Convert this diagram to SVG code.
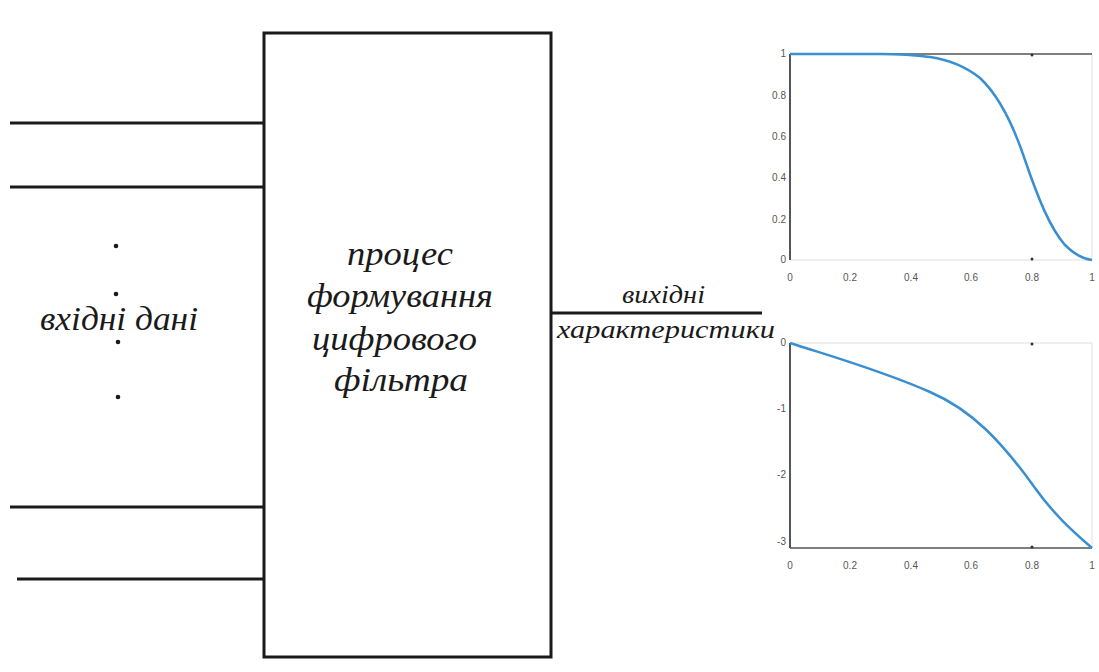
<svg xmlns="http://www.w3.org/2000/svg" width="1099" height="672" viewBox="0 0 1099 672">
<style>
.ln{stroke:#1a1a1a;stroke-width:3;fill:none}
.t{font-family:"Liberation Serif","DejaVu Serif",serif;font-style:italic;fill:#1a1a1a}
.ax{font-family:"Liberation Sans",sans-serif;font-size:10px;fill:#555}
.curve{stroke:#3a8fd0;stroke-width:2.5;fill:none}
</style>
<rect width="1099" height="672" fill="#fff"/>
<g id="connectors">
<line class="ln" x1="10" y1="123" x2="264" y2="123"/>
<line class="ln" x1="10" y1="187" x2="264" y2="187"/>
<line class="ln" x1="10" y1="507" x2="264" y2="507"/>
<line class="ln" x1="17" y1="579" x2="264" y2="579"/>
<line class="ln" x1="551" y1="313" x2="762" y2="313"/>
</g>
<g id="inputs">
<circle cx="116" cy="246" r="2.3" fill="#1a1a1a"/>
<circle cx="116" cy="294" r="2.3" fill="#1a1a1a"/>
<circle cx="118" cy="342" r="2.3" fill="#1a1a1a"/>
<circle cx="118" cy="397" r="2.3" fill="#1a1a1a"/>
<text class="t" x="40" y="330" font-size="33" textLength="158" lengthAdjust="spacingAndGlyphs">вхідні дані</text>
</g>
<g id="process">
<rect x="264" y="33" width="287" height="624" class="ln"/>
<text class="t" font-size="34" lengthAdjust="spacingAndGlyphs" x="347" y="265" textLength="106">процес</text>
<text class="t" font-size="34" lengthAdjust="spacingAndGlyphs" x="307" y="307" textLength="186">формування</text>
<text class="t" font-size="34" lengthAdjust="spacingAndGlyphs" x="312" y="350" textLength="165">цифрового</text>
<text class="t" font-size="34" lengthAdjust="spacingAndGlyphs" x="334" y="391" textLength="134">фільтра</text>
</g>
<g id="output">
<text class="t" font-size="26" lengthAdjust="spacingAndGlyphs" x="622" y="303" textLength="83">вихідні</text>
<text class="t" font-size="26" lengthAdjust="spacingAndGlyphs" x="557" y="338" textLength="218">характеристики</text>
</g>
<g id="plot-magnitude">
<line x1="790" y1="260" x2="1092" y2="260" stroke="#ddd" stroke-width="1"/>
<line x1="1092" y1="54" x2="1092" y2="260" stroke="#e4e4e4" stroke-width="1"/>
<line x1="790" y1="54" x2="1092" y2="54" stroke="#555" stroke-width="1.5"/>
<line x1="790" y1="54" x2="790" y2="260" stroke="#555" stroke-width="2"/>
<circle cx="1032" cy="55" r="1.5" fill="#333"/><circle cx="1032" cy="259" r="1.5" fill="#333"/>
<g class="ax" text-anchor="end">
<text x="786" y="57">1</text><text x="786" y="99">0.8</text><text x="786" y="140">0.6</text><text x="786" y="181">0.4</text><text x="786" y="223">0.2</text><text x="786" y="263">0</text>
</g>
<g class="ax" text-anchor="middle">
<text x="790" y="281">0</text><text x="850" y="281">0.2</text><text x="911" y="281">0.4</text><text x="971" y="281">0.6</text><text x="1032" y="281">0.8</text><text x="1092" y="281">1</text>
</g>
<path class="curve" d="M790,54 L880,54 C900,54 915,55 930,57 C950,60 965,66 980,78 C995,92 1010,115 1025,160 C1038,198 1050,228 1065,245 C1075,255 1083,259 1092,260"/>
</g>
<g id="plot-phase">
<line x1="790" y1="343" x2="1092" y2="343" stroke="#ddd" stroke-width="1"/>
<line x1="1092" y1="343" x2="1092" y2="548" stroke="#e4e4e4" stroke-width="1"/>
<line x1="790" y1="548" x2="1092" y2="548" stroke="#555" stroke-width="1.5"/>
<line x1="790" y1="343" x2="790" y2="548" stroke="#555" stroke-width="2"/>
<circle cx="1032" cy="344" r="1.5" fill="#333"/><circle cx="1032" cy="547" r="1.5" fill="#333"/>
<g class="ax" text-anchor="end">
<text x="786" y="346">0</text><text x="786" y="412">-1</text><text x="786" y="478">-2</text><text x="786" y="545">-3</text>
</g>
<g class="ax" text-anchor="middle">
<text x="790" y="569">0</text><text x="850" y="569">0.2</text><text x="911" y="569">0.4</text><text x="971" y="569">0.6</text><text x="1032" y="569">0.8</text><text x="1092" y="569">1</text>
</g>
<path class="curve" d="M790,343 C830,356 880,370 930,392 C972,410 1002,442 1035,488 C1055,516 1075,533 1092,548"/>
</g>
</svg>
